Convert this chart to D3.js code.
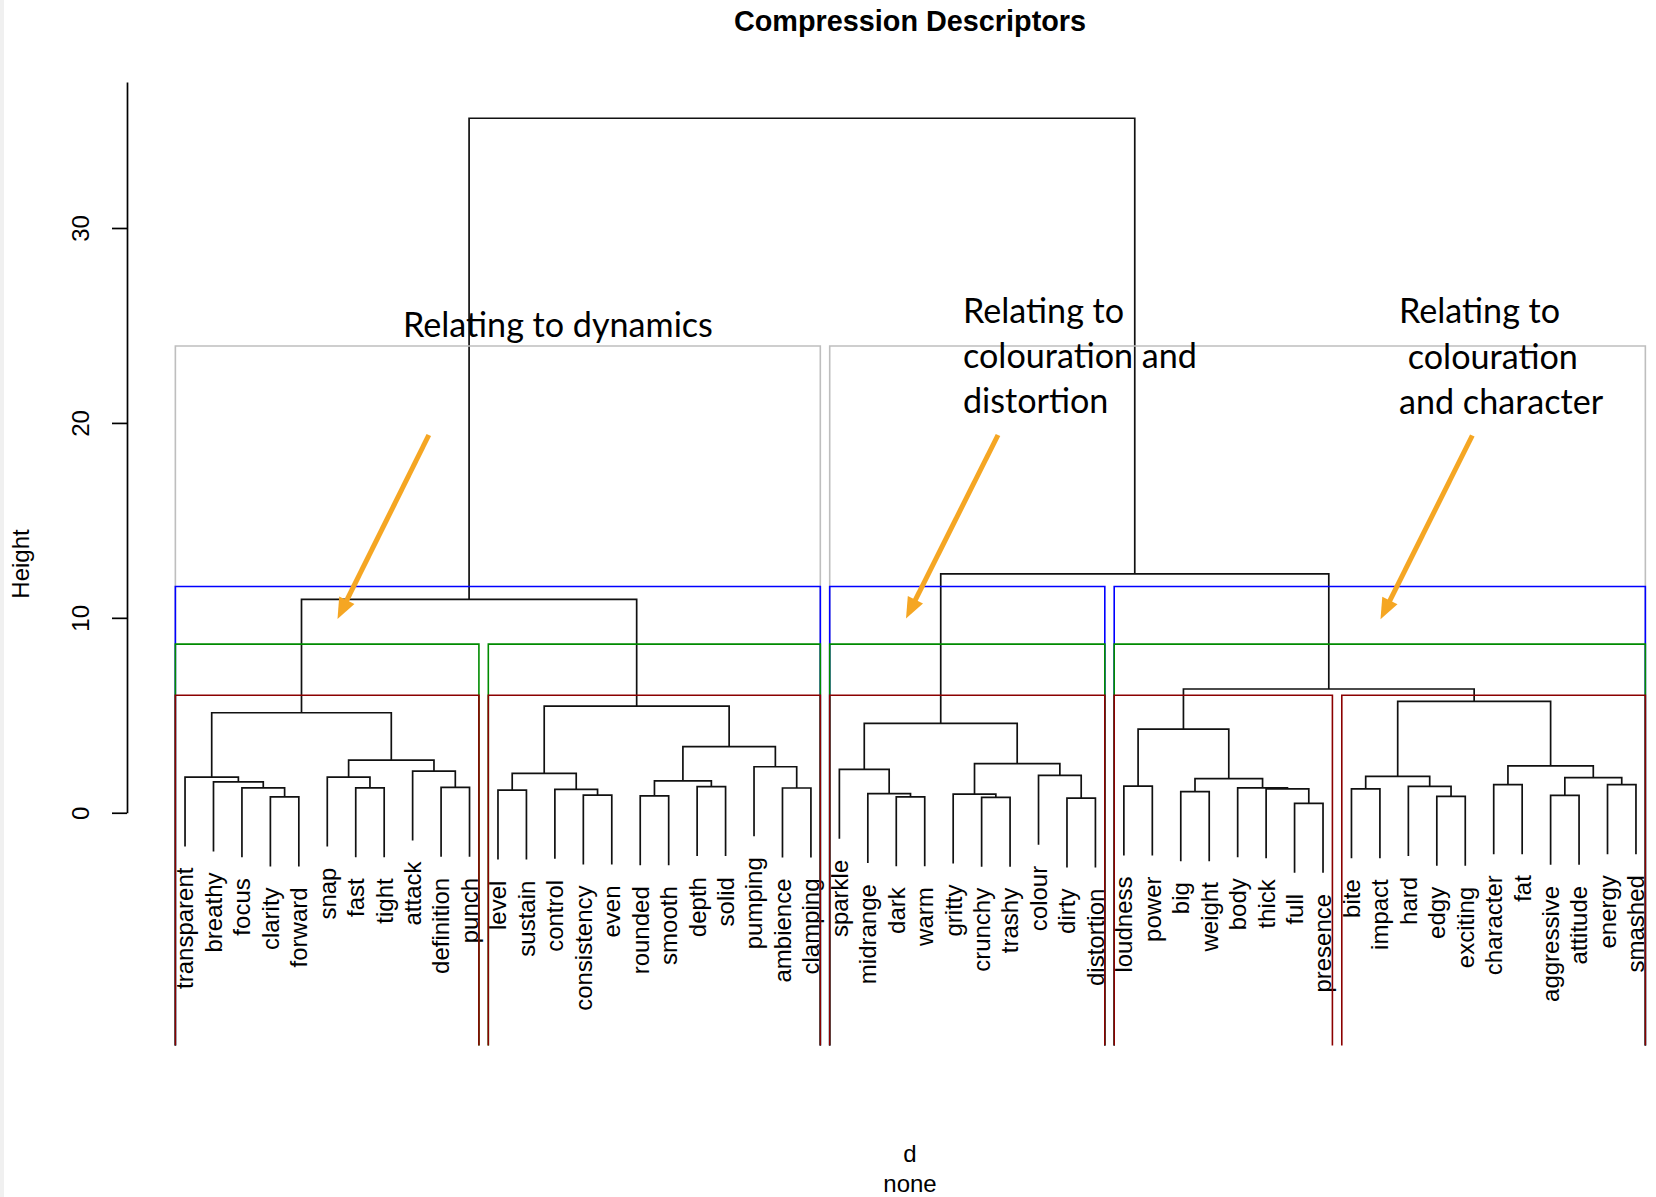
<!DOCTYPE html>
<html><head><meta charset="utf-8">
<script src="https://cdn.jsdelivr.net/npm/d3@7"></script>
<style>
html,body{margin:0;padding:0;background:#fff;}
svg{display:block;}
</style></head>
<body>
<svg id="chart" width="1656" height="1197"></svg>
<script>
// ---------------- DATA ----------------
const chartTitle = "Compression Descriptors";
const yAxisTitle = "Height";
const xAxisTitle = ["d", "none"];
const yTicks = [0, 10, 20, 30];

// leaves in dendrogram order (1-based indices used in mergePairs as negatives, like R's hclust$merge)
const leafLabels = [
  "transparent","breathy","focus","clarity","forward","snap","fast","tight","attack","definition","punch",
  "level","sustain","control","consistency","even","rounded","smooth","depth","solid","pumping","ambience","clamping",
  "sparkle","midrange","dark","warm","gritty","crunchy","trashy","colour","dirty","distortion",
  "loudness","power","big","weight","body","thick","full","presence",
  "bite","impact","hard","edgy","exciting","character","fat","aggressive","attitude","energy","smashed"
];

// merge rows: negative = leaf index, positive = earlier merge row (1-based)
const mergePairs = [
  [-4,-5],[-3,1],[-2,2],[-1,3],[-7,-8],[-6,5],[-10,-11],[-9,7],[6,8],[4,9],
  [-12,-13],[-15,-16],[-14,12],[11,13],[-17,-18],[-19,-20],[15,16],[-22,-23],[-21,18],[17,19],[14,20],[10,21],
  [-26,-27],[-25,23],[-24,24],[-29,-30],[-28,26],[-32,-33],[-31,28],[27,29],[25,30],
  [-34,-35],[-36,-37],[-40,-41],[-39,34],[-38,35],[33,36],[32,37],
  [-42,-43],[-45,-46],[-44,40],[39,41],[-47,-48],[-49,-50],[-51,-52],[44,45],[43,46],[42,47],
  [38,48],[31,49],[22,50]
];
const mergeHeights = [
  0.81,1.28,1.58,1.83,1.28,1.83,1.30,2.14,2.70,5.13,
  1.16,0.91,1.20,2.02,0.87,1.34,1.64,1.27,2.36,3.39,5.47,10.95,
  0.82,0.98,2.23,0.79,0.96,0.75,1.92,2.52,4.59,
  1.37,1.08,0.48,1.23,1.28,1.75,4.29,
  1.23,0.84,1.35,1.87,1.44,0.89,1.44,1.80,2.41,5.71,
  6.35,12.26,35.63
];

// rect.hclust cuts and their border colours
const cutK = [2, 3, 4, 5];
const cutColors = ["#bebebe", "#0000ff", "#008b00", "#8b0000"];

// annotation texts
const annotationLines = [
  ["Relating to dynamics"],
  ["Relating to", "colouration and", "distortion"],
  ["Relating to", " colouration", "and character"]
];

// ---------------- LAYOUT ----------------
const svg = d3.select("#chart");
const W = 1656, H = 1197;
const FONT = "'Liberation Sans', Arial, Helvetica, sans-serif";
const ANNFONT = "Lato, 'Open Sans', sans-serif";

svg.append("rect").attr("x",0).attr("y",0).attr("width",W).attr("height",H).attr("fill","#fff");
svg.append("rect").attr("x",0).attr("y",0).attr("width",4).attr("height",H).attr("fill","#f0f0f0");

const n = leafLabels.length;
const x = d3.scaleLinear().domain([1 - 0.04*(n-1), n + 0.04*(n-1)]).range([127, 1694]);
const y = d3.scaleLinear().domain([-11.94, 37.49]).range([1045.5, 82]);
const maxH = d3.max(mergeHeights);
const hang = 0.1 * maxH;

// build hierarchy from merge table
function buildNode(ref) {
  if (ref < 0) return { name: leafLabels[-ref-1], index: -ref };
  const [a, b] = mergePairs[ref-1];
  return { merge: ref, height: mergeHeights[ref-1], children: [buildNode(a), buildNode(b)] };
}
const root = d3.hierarchy(buildNode(mergePairs.length));
root.eachAfter(d => {
  if (!d.children) { d.px = x(d.data.index); }
  else { d.px = (d.children[0].px + d.children[1].px) / 2; }
});

// dendrogram links
const gTree = svg.append("g").attr("fill","none").attr("stroke","#111").attr("stroke-width",1.7);
root.descendants().filter(d => d.children).forEach(d => {
  const h = d.data.height;
  const [a, b] = d.children;
  const ya = a.children ? y(a.data.height) : y(h - hang);
  const yb = b.children ? y(b.data.height) : y(h - hang);
  gTree.append("path")
    .attr("d", `M${a.px},${ya}V${y(h)}H${b.px}V${yb}`);
});

// leaf labels
const gLab = svg.append("g").attr("font-family", FONT).attr("font-size", 24).attr("fill","#000");
root.leaves().forEach(l => {
  const h = l.parent.data.height;
  const yy = y(h - hang) + 21;
  gLab.append("text")
    .attr("transform", `translate(${l.px},${yy}) rotate(-90)`)
    .attr("text-anchor","end")
    .attr("dy","0.35em")
    .text(l.data.name);
});

// cluster rectangles (rect.hclust) - bottom edge falls on the plot border and is clipped
const hDesc = mergeHeights.slice().sort((a,b) => b - a);
const internal = root.descendants().filter(d => d.children);
const yBottom = y.range()[0];
cutK.forEach((k, ci) => {
  const top = internal.slice().sort((a,b) => b.data.height - a.data.height).slice(0, k-1);
  const topSet = new Set(top);
  const clusters = [];
  top.forEach(t => t.children.forEach(c => { if (!topSet.has(c)) clusters.push(c); }));
  const hTop = (hDesc[k-2] + hDesc[k-1]) / 2;
  clusters.forEach(c => {
    const idx = c.leaves().map(l => l.data.index);
    const lo = d3.min(idx), hi = d3.max(idx);
    const x0 = x(lo - 0.34), x1 = x(hi + 0.33);
    svg.append("path")
      .attr("d", `M${x0},${yBottom}V${y(hTop)}H${x1}V${yBottom}`)
      .attr("fill","none").attr("stroke", cutColors[ci]).attr("stroke-width", 1.6);
  });
});

// y axis
const yAxisScale = y.copy().domain([0, y.domain()[1]]).range([y(0), y(y.domain()[1])]);
const gAx = svg.append("g").attr("transform", `translate(${x.range()[0]},0)`)
  .call(d3.axisLeft(yAxisScale).tickValues(yTicks).tickSize(15).tickSizeOuter(0).tickFormat(d3.format("d")));
gAx.select(".domain").attr("stroke","#000").attr("stroke-width",1.7);
gAx.selectAll(".tick line").attr("stroke","#000").attr("stroke-width",1.7);
gAx.selectAll(".tick text")
  .attr("x", null).attr("dy", null)
  .attr("text-anchor","middle")
  .attr("transform","translate(-38,0) rotate(-90)")
  .attr("font-family", FONT).attr("font-size", 24).attr("fill","#000");

// titles
svg.append("text").attr("x", 910).attr("y", 31).attr("text-anchor","middle")
  .attr("font-family", FONT).attr("font-size", 28.8).attr("font-weight","bold").text(chartTitle);
svg.append("text").attr("transform", "translate(29,564) rotate(-90)").attr("text-anchor","middle")
  .attr("font-family", FONT).attr("font-size", 24).text(yAxisTitle);
svg.append("text").attr("x", 910).attr("y", 1162).attr("text-anchor","middle")
  .attr("font-family", FONT).attr("font-size", 24).text(xAxisTitle[0]);
svg.append("text").attr("x", 910).attr("y", 1192).attr("text-anchor","middle")
  .attr("font-family", FONT).attr("font-size", 24).text(xAxisTitle[1]);

// annotations
const probe = svg.append("text").attr("font-family", ANNFONT).attr("font-size", 100).text(annotationLines[0][0]);
const pw = probe.node().getComputedTextLength();
probe.remove();
const annSize = 100 * 310 / pw;

const annPos = [
  { x: [403], y: [336.7] },
  { x: [963, 963, 963], y: [323, 368, 413] },
  { x: [1399, 1399, 1399], y: [323, 369, 414] }
];
const gAnn = svg.append("g").attr("font-family", ANNFONT).attr("font-size", annSize).attr("fill","#000");
annotationLines.forEach((lines, i) => {
  lines.forEach((t, j) => {
    gAnn.append("text").attr("x", annPos[i].x[j]).attr("y", annPos[i].y[j])
      .attr("xml:space","preserve").style("white-space","pre").text(t);
  });
});

// orange arrows
const arrows = [
  [[428.8, 435], [337.5, 619]],
  [[998, 435], [906, 618.5]],
  [[1472.3, 435.5], [1380.5, 619.3]]
];
const ORANGE = "#f5a623";
arrows.forEach(([s, e]) => {
  const dx = e[0]-s[0], dy = e[1]-s[1], L = Math.hypot(dx, dy);
  const ux = dx/L, uy = dy/L, headL = 21, headW = 8.5;
  const bx = e[0] - ux*headL, by = e[1] - uy*headL;
  svg.append("line").attr("x1", s[0]).attr("y1", s[1]).attr("x2", bx + ux*2).attr("y2", by + uy*2)
    .attr("stroke", ORANGE).attr("stroke-width", 5);
  svg.append("polygon")
    .attr("points", `${e[0]},${e[1]} ${bx - uy*headW},${by + ux*headW} ${bx + uy*headW},${by - ux*headW}`)
    .attr("fill", ORANGE);
});
</script>
</body></html>
